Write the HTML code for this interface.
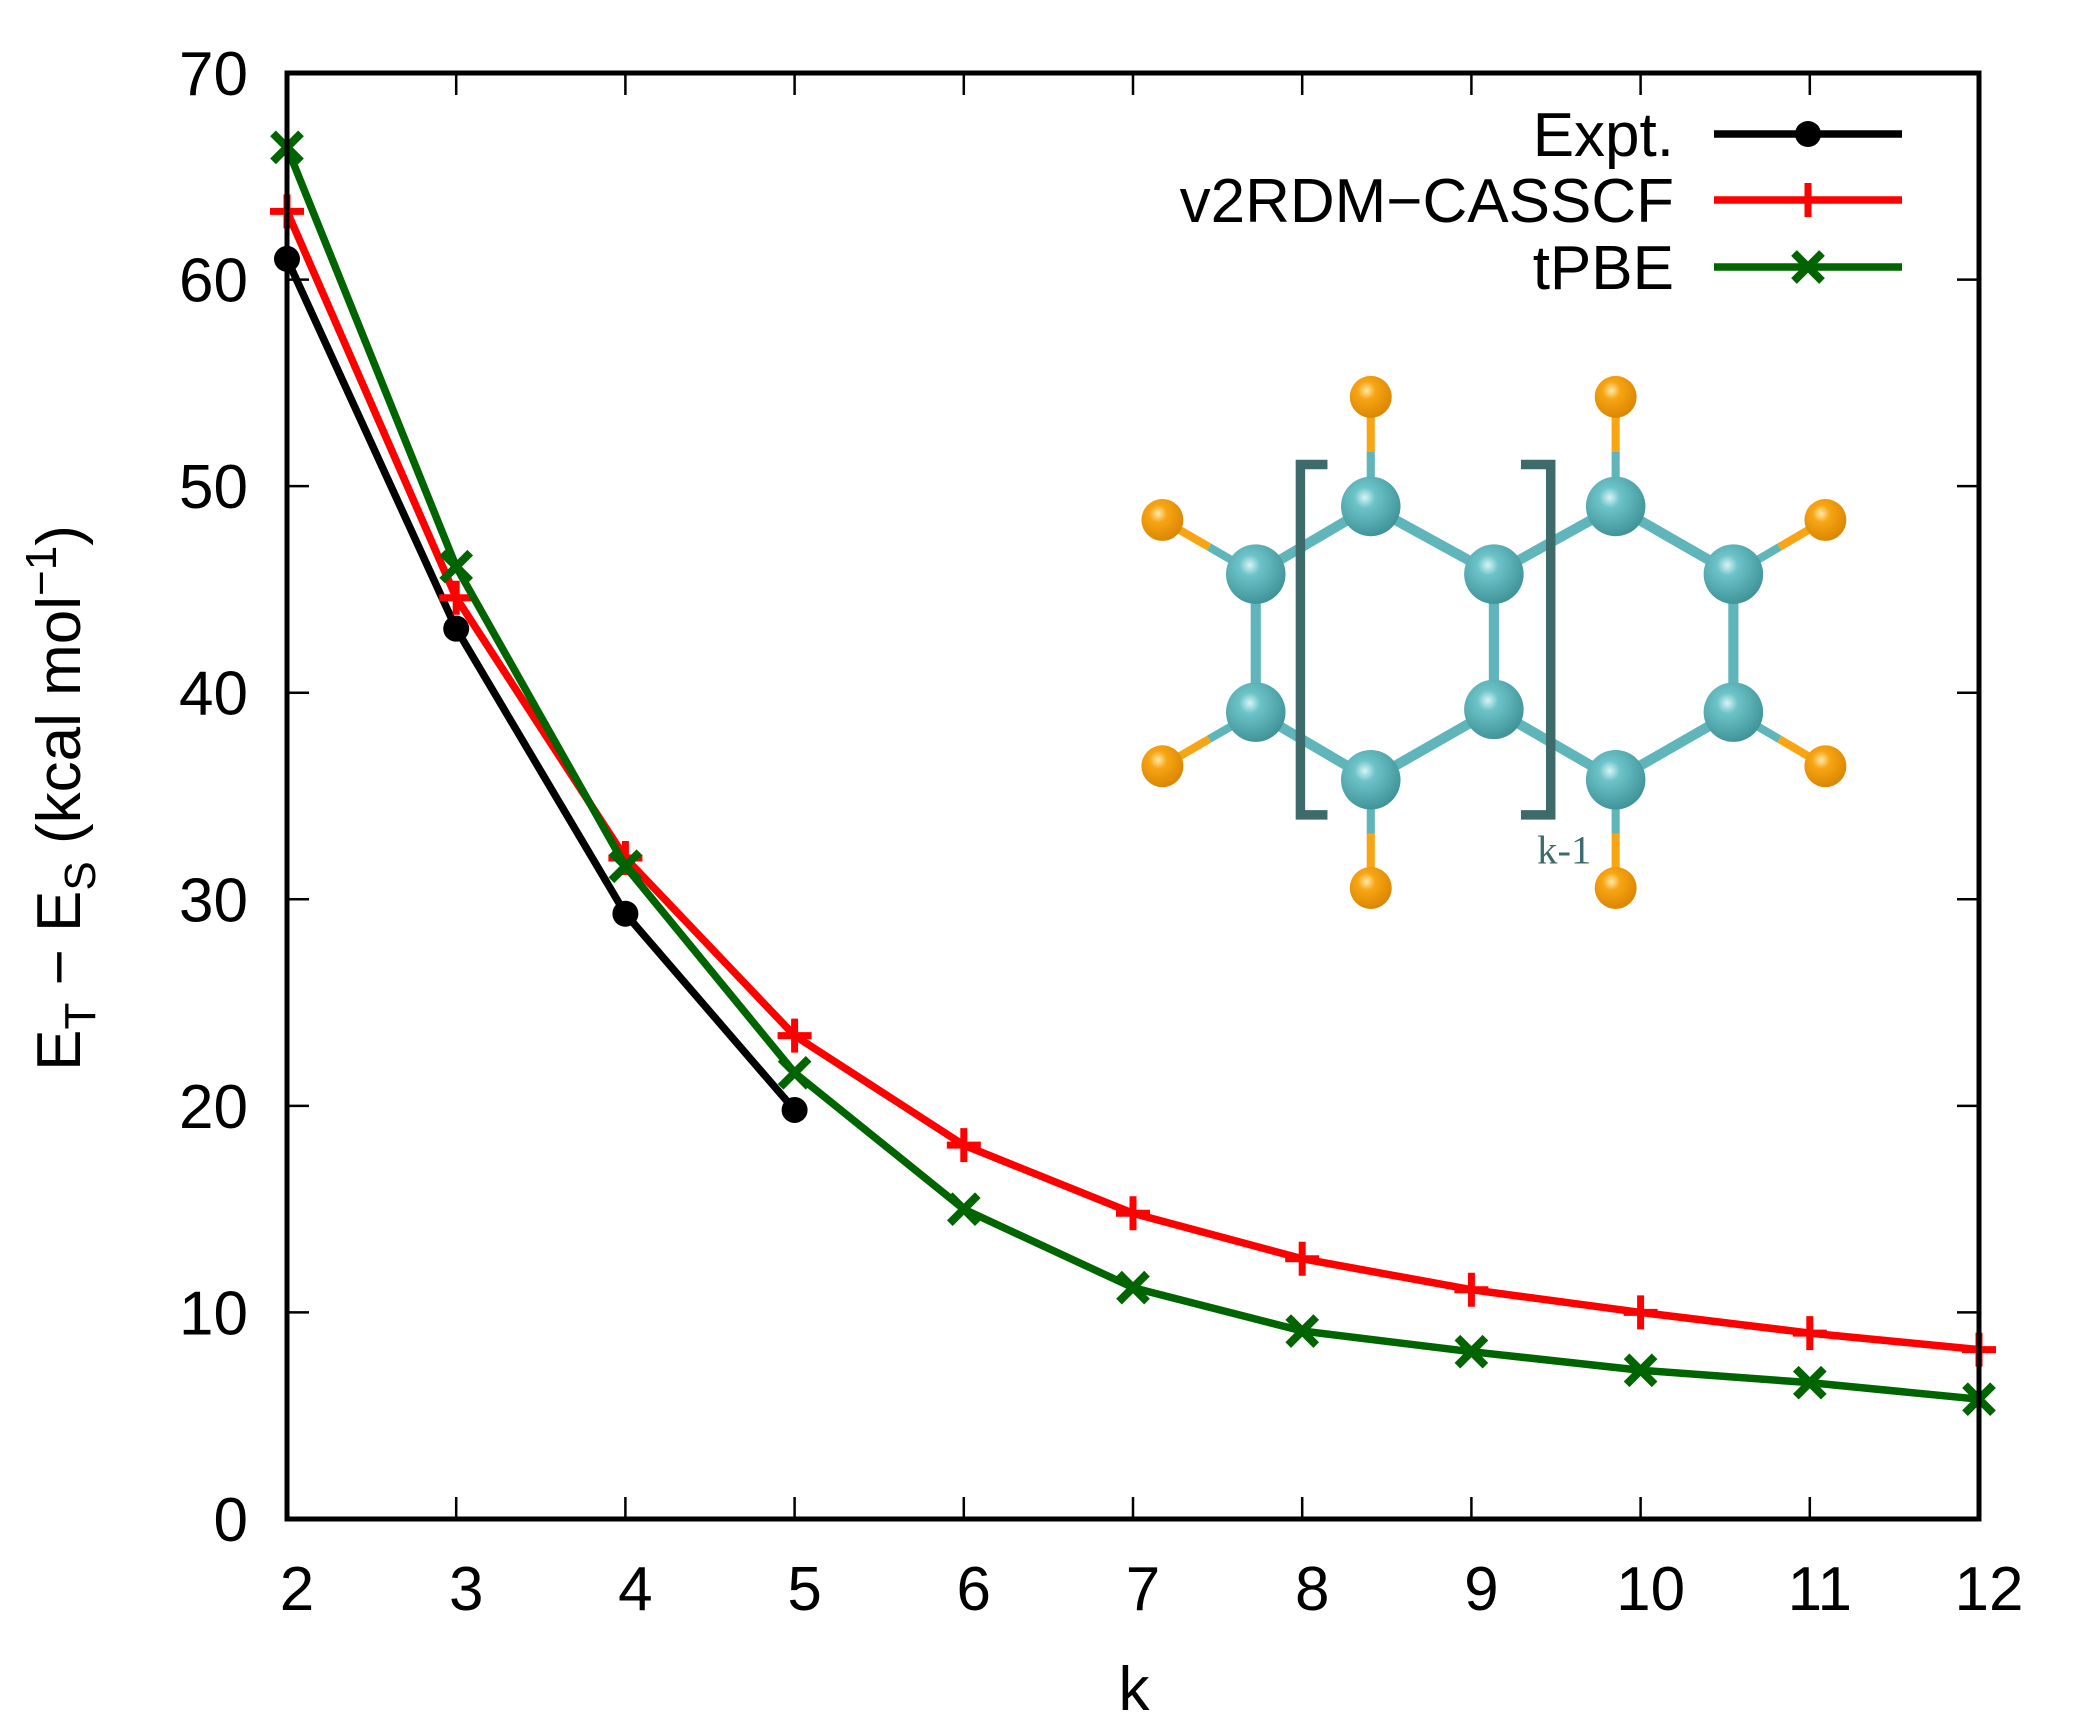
<!DOCTYPE html>
<html><head><meta charset="utf-8"><style>html,body{margin:0;padding:0;background:#fff}svg{display:block}</style></head>
<body>
<svg id="chart" width="2100" height="1733" viewBox="0 0 2100 1733" xmlns="http://www.w3.org/2000/svg" font-family="'Liberation Sans', sans-serif">
<defs>
<radialGradient id="cg" cx="0.4" cy="0.35" r="0.7"><stop offset="0" stop-color="#d8f4f6"/><stop offset="0.25" stop-color="#6cc3c8"/><stop offset="1" stop-color="#3c9095"/></radialGradient>
<radialGradient id="hg" cx="0.4" cy="0.35" r="0.7"><stop offset="0" stop-color="#ffe9a8"/><stop offset="0.3" stop-color="#f7a514"/><stop offset="1" stop-color="#d98300"/></radialGradient>
</defs>
<g id="molecule" transform="translate(-12,-5) scale(1.353)"></g>
<g id="plot"></g>
<rect x="287" y="73" width="1692" height="1446" fill="none" stroke="#000" stroke-width="5"/>
<g id="axes"></g>
<text x="1134" y="1710" font-size="62" text-anchor="middle">k</text>
<text transform="translate(80,798) rotate(-90)" font-size="62" text-anchor="middle">E<tspan font-size="44" dy="15">T</tspan><tspan dy="-15"> − E</tspan><tspan font-size="44" dy="15">S</tspan><tspan dy="-15"> (kcal mol</tspan><tspan font-size="44" dy="-24">−1</tspan><tspan dy="24">)</tspan></text>
<g id="legend"></g>
</svg>
<script>
const categories=[2,3,4,5,6,7,8,9,10,11,12];
const expt=[61.0,43.1,29.3,19.8];
const v2rdm=[63.3,44.6,32.0,23.4,18.1,14.8,12.6,11.1,10.0,9.0,8.2];
const tpbe=[66.4,46.1,31.6,21.6,15.0,11.2,9.1,8.1,7.2,6.6,5.8];
const yTicks=[0,10,20,30,40,50,60,70];
const xTicks=[2,3,4,5,6,7,8,9,10,11,12];
const NS='http://www.w3.org/2000/svg';
const X0=287,X1=1979,Y0=1519,Y1=73;
const xs=k=>X0+(k-2)/10*(X1-X0);
const ys=v=>Y0-v/70*(Y0-Y1);
function mk(tag,attrs,parent){const e=document.createElementNS(NS,tag);for(const k in attrs)e.setAttribute(k,attrs[k]);parent.appendChild(e);return e;}
const axes=document.getElementById('axes');
yTicks.forEach(v=>{
 const y=ys(v);
 if(v>0&&v<70){const t1=mk('line',{x1:X0,x2:X0+22,y1:y,y2:y,stroke:'#000','stroke-width':2.5},axes);
 
 const t2=mk('line',{x1:X1-22,x2:X1,y1:y,y2:y,stroke:'#000','stroke-width':2.5},axes);
 }
 const tx=mk('text',{x:248,y:y+22,'font-size':62,'text-anchor':'end'},axes);tx.textContent=v;
 
});
xTicks.forEach(k=>{
 const x=xs(k);
 if(k>2&&k<12){const t1=mk('line',{x1:x,x2:x,y1:Y0,y2:Y0-22,stroke:'#000','stroke-width':2.5},axes);
 
 const t2=mk('line',{x1:x,x2:x,y1:Y1,y2:Y1+22,stroke:'#000','stroke-width':2.5},axes);
 }
 const tx=mk('text',{x:x+10,y:1610,'font-size':62,'text-anchor':'middle'},axes);tx.textContent=k;
 
});
function marker(type,x,y,color,parent){
 if(type==='circle'){const c=mk('circle',{cx:x,cy:y,r:13,fill:color},parent);}
 else if(type==='plus'){const g=mk('path',{d:`M${x-17},${y}H${x+17}M${x},${y-17}V${y+17}`,stroke:color,'stroke-width':7,fill:'none'},parent);}
 else {const g=mk('path',{d:`M${x-14},${y-14}L${x+14},${y+14}M${x-14},${y+14}L${x+14},${y-14}`,stroke:color,'stroke-width':8,fill:'none'},parent);}
}
const plot=document.getElementById('plot');
[[expt,'#000','circle','expt'],[v2rdm,'#ff0000','plus','v2rdm'],[tpbe,'#006400','cross','tpbe']].forEach(([vals,col,mt,nm])=>{
 const pts=vals.map((v,i)=>xs(categories[i])+','+ys(v)).join(' ');
 const pl=mk('polyline',{points:pts,fill:'none',stroke:col,'stroke-width':7.5,'stroke-linejoin':'round'},plot);
 
 vals.forEach((v,i)=>marker(mt,xs(categories[i]),ys(v),col,plot));
});
const legend=document.getElementById('legend');
[['Expt.','#000','circle',134],['v2RDM−CASSCF','#ff0000','plus',200],['tPBE','#006400','cross',267]].forEach(([lab,col,mt,y])=>{
 const t=mk('text',{x:1674,y:y+22,'font-size':62,'text-anchor':'end'},legend);t.textContent=lab;
 
 const l=mk('line',{x1:1714,x2:1902,y1:y,y2:y,stroke:col,'stroke-width':7.5},legend);
 
 marker(mt,1808,y,col,legend);
});
const mol=document.getElementById('molecule');
const C=[[937,428],[1022,378],[1113,428],[1113,528],[1022,580],[937,530],[1203,378],[1290,428],[1290,530],[1203,580]];
const H=[[1022,297,1],[1022,660,4],[1203,297,6],[1203,660,9],[868,388,0],[868,570,5],[1358,388,7],[1358,570,8]];
const B=[[0,1],[1,2],[2,3],[3,4],[4,5],[5,0],[2,6],[6,7],[7,8],[8,9],[9,3]];
B.forEach(([a,b])=>{const l=mk('line',{x1:C[a][0],y1:C[a][1],x2:C[b][0],y2:C[b][1],stroke:'#5fb5ba','stroke-width':7.5},mol);});
H.forEach(([x,y,c])=>{const mx=(x+C[c][0])/2,my=(y+C[c][1])/2;
 const l1=mk('line',{x1:C[c][0],y1:C[c][1],x2:mx,y2:my,stroke:'#5fb5ba','stroke-width':6},mol);
 const l2=mk('line',{x1:mx,y1:my,x2:x,y2:y,stroke:'#f7a514','stroke-width':6},mol);});
const br=mk('path',{d:'M990,347H970V606H990M1133,347H1155V606H1133',fill:'none',stroke:'#3d6b6b','stroke-width':7},mol);

C.forEach(([x,y])=>{const c=mk('circle',{cx:x,cy:y,r:22,fill:'url(#cg)'},mol);});
H.forEach(([x,y])=>{const c=mk('circle',{cx:x,cy:y,r:15.5,fill:'url(#hg)'},mol);});
const kt=mk('text',{x:1145,y:642,'font-size':30,fill:'#3d6b6b','font-family':"'Liberation Serif', serif"},mol);kt.textContent='k-1';

</script>
</body></html>
